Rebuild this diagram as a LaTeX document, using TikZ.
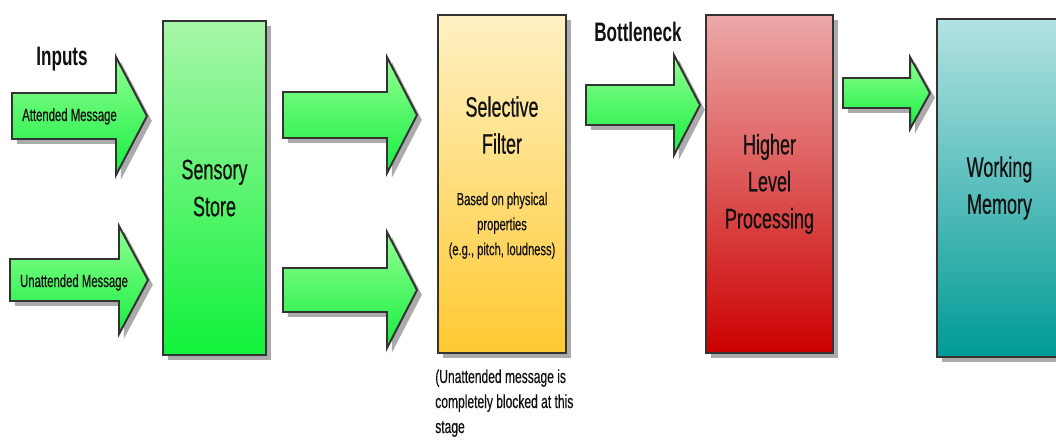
\documentclass[tikz,border=0pt]{standalone}
\usepackage{fontspec}
\setmainfont{Liberation Sans}[FakeStretch=0.64, UprightFeatures={FakeBold=0.4}]
\usetikzlibrary{positioning, shadows}

\definecolor{edge}{HTML}{333333}
\definecolor{ink}{HTML}{111111}
\definecolor{shade}{HTML}{ABABAB}
\definecolor{arrowtop}{HTML}{92FF92}
\definecolor{arrowbottom}{HTML}{16EE40}
\definecolor{sensetop}{HTML}{A8F6A8}
\definecolor{sensebottom}{HTML}{10F23A}
\definecolor{filtertop}{HTML}{FFF1C4}
\definecolor{filterbottom}{HTML}{FFC931}
\definecolor{hightop}{HTML}{EDA9A9}
\definecolor{highbottom}{HTML}{CC0000}
\definecolor{memtop}{HTML}{B3E3E2}
\definecolor{membottom}{HTML}{009A96}

% fat arrow: left x, head x, tip x, centre y, half shaft, half head
\newcommand{\fatarrow}[6]{%
  \draw[flow] (#1,#4-#5) -- (#2,#4-#5) -- (#2,#4-#6) -- (#3,#4)
    -- (#2,#4+#6) -- (#2,#4+#5) -- (#1,#4+#5) -- cycle;
}

\begin{document}
\begin{tikzpicture}[x=0.025cm, y=-0.025cm,
    outline/.style={draw=edge, line width=1.4pt},
    castshadow/.style={drop shadow={shadow xshift=0.12cm, shadow yshift=-0.12cm,
        fill=shade, opacity=1}},
    flow/.style={outline, castshadow, top color=arrowtop, bottom color=arrowbottom},
    stagebox/.style={outline, castshadow, inner sep=0pt, text=ink, align=center,
        font=\fontsize{20}{26.3}\selectfont},
    heading/.style={inner sep=0pt, text=ink, font=\fontsize{19}{22}\selectfont\bfseries},
    msg/.style={inner sep=0pt, text=ink, font=\fontsize{12.6}{16}\selectfont},
    small/.style={inner sep=0pt, text=ink, align=center, font=\fontsize{12.4}{17.8}\selectfont},
    big/.style={inner sep=0pt, text=ink, align=center, font=\fontsize{20}{26.3}\selectfont}]
    \clip (0,0) rectangle (1056,443);

    % Stages
    \node[stagebox, top color=sensetop, bottom color=sensebottom,
        minimum width=2.575cm, minimum height=8.35cm] (sensory) at (214.5,188) {Sensory\\Store};
    \node[stagebox, top color=filtertop, bottom color=filterbottom,
        minimum width=3.2cm, minimum height=8.45cm] (filter) at (502,184) {};
    \node[stagebox, top color=hightop, bottom color=highbottom,
        minimum width=3.175cm, minimum height=8.45cm] (higher) at (769.5,184) {Higher\\Level\\Processing};
    \node[stagebox, top color=memtop, bottom color=membottom,
        minimum width=3.125cm, minimum height=8.45cm] (memory) at (999.5,188) {Working\\Memory};

    % Text inside the filter
    \node[big, below=2.05cm of filter.north] (filtername) {Selective\\Filter};
    \node[small, below=0.95cm of filtername] (filterbasis) {Based on physical\\properties\\(e.g., pitch, loudness)};

    % Inputs
    \fatarrow{12}{116}{147}{116}{23}{59}
    \fatarrow{10}{119}{148}{280}{21}{54}
    \node[heading, anchor=base] (inputs) at (62,65) {Inputs};
    \node[msg, anchor=base] (attended) at (69.5,121) {Attended Message};
    \node[msg, anchor=base] (unattended) at (74,287) {Unattended Message};

    % Sensory store to filter
    \fatarrow{283}{387}{417}{115}{23}{58}
    \fatarrow{283}{387}{417}{290}{22}{58}

    % Filter to higher processing
    \fatarrow{586}{674}{700}{105}{20}{50}
    \node[heading, anchor=base] (bottleneck) at (638,41) {Bottleneck};

    % Higher processing to working memory
    \fatarrow{843}{910}{930}{93}{15}{36}

    % Note under the filter
    \node[small, align=left, font=\fontsize{13.4}{17.8}\selectfont,
        below=0.375cm of filter.south west, anchor=north west, xshift=-0.05cm] (blocked)
        {(Unattended message is\\completely blocked at this\\stage};
\end{tikzpicture}
\end{document}
